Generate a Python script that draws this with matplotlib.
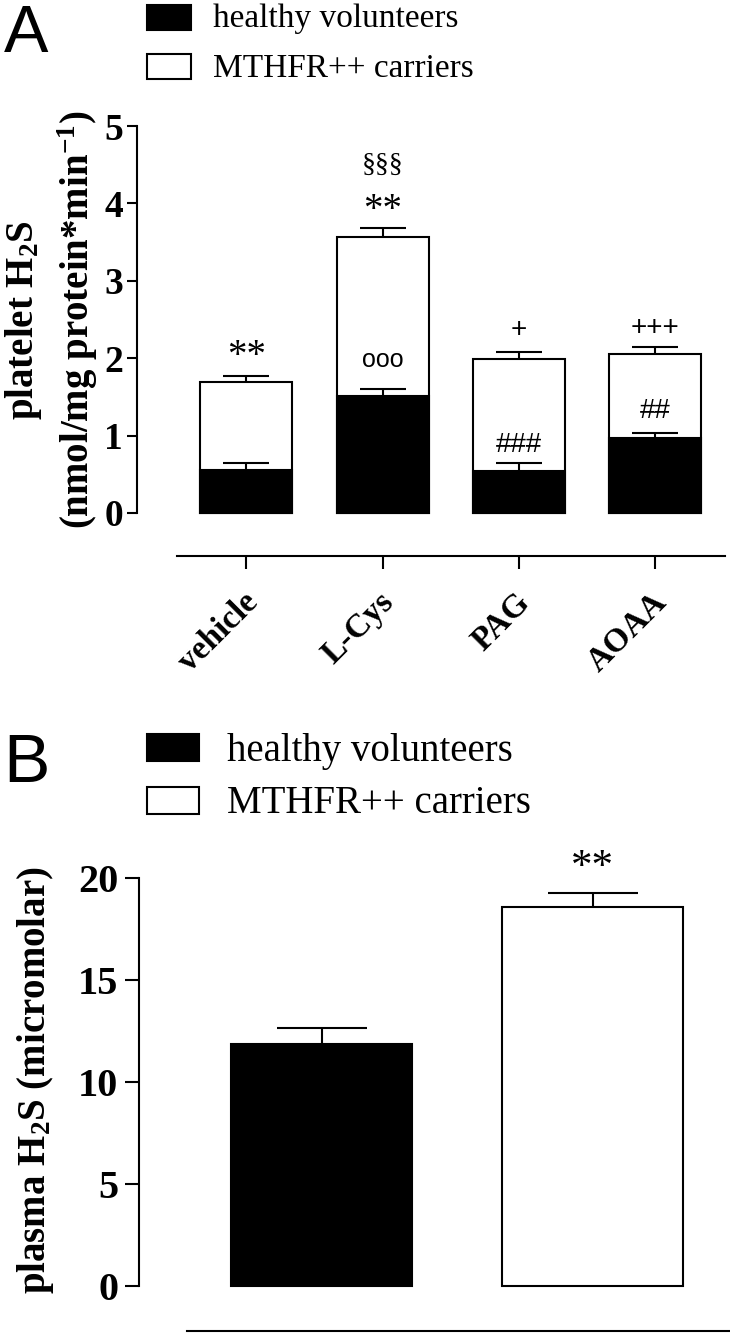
"""
Platelet and plasma H2S in healthy volunteers vs MTHFR++ carriers.
Panel A: platelet H2S under vehicle / L-Cys / PAG / AOAA.
Panel B: plasma H2S.
"""

import numpy as np
import matplotlib
matplotlib.use("Agg")
import matplotlib.pyplot as plt
from matplotlib.patches import Rectangle

# ---- data ----
categories = ["vehicle", "L-Cys", "PAG", "AOAA"]
healthy_mean = [0.56, 1.51, 0.54, 0.97]
healthy_sem = [0.08, 0.09, 0.10, 0.06]
carrier_mean = [1.69, 3.57, 1.99, 2.05]
carrier_sem = [0.08, 0.11, 0.09, 0.09]
carrier_marks = ["**", "**", "+", "+++"]
healthy_marks = ["", "ooo", "###", "##"]
lcys_extra_mark = "§§§"

plasma_mean = [11.86, 18.58]
plasma_sem = [0.79, 0.68]
plasma_marks = ["", "**"]

legend_labels = ["healthy volunteers", "MTHFR++ carriers"]
legend_colors = ["black", "white"]

SERIF = "Liberation Serif"
SANS = "Liberation Sans"

plt.rcParams["font.family"] = SERIF
plt.rcParams["mathtext.fontset"] = "custom"
plt.rcParams["mathtext.rm"] = SERIF
plt.rcParams["mathtext.bf"] = SERIF + ":bold"
plt.rcParams["mathtext.default"] = "bf"

W, H = 730, 1336
fig = plt.figure(figsize=(W / 100, H / 100), dpi=100)


def box(l, t, r, b):
    return [l / W, 1 - b / H, (r - l) / W, (b - t) / H]


def fx(x):
    return x / W


def fy(y):
    return 1 - y / H


def error_up(ax, x, m, s, w):
    top = np.add(m, s)
    ax.vlines(x, m, top, colors="black", lw=1.5, zorder=4, clip_on=False)
    ax.hlines(top, x - w / 4, x + w / 4, colors="black", lw=1.5, zorder=4,
              clip_on=False)
    return top


def mark_font(mark):
    return SERIF if ("*" in mark or "§" in mark) else SANS


def legend(y_rows, sq_w, sq_h, text_x, size):
    for (top, base), lab, col in zip(y_rows, legend_labels, legend_colors):
        fig.add_artist(Rectangle((fx(147), fy(top + sq_h)), sq_w / W, sq_h / H,
                                 facecolor=col, edgecolor="black", lw=1.5,
                                 transform=fig.transFigure))
        fig.text(fx(text_x), fy(base), lab, fontsize=size, family=SERIF,
                 va="baseline", ha="left")


# ================= Panel A =================
axA = fig.add_axes(box(137, 126, 725, 513))
x = np.arange(len(categories))
w = 0.674
axA.bar(x, carrier_mean, w, color="white", edgecolor="black", lw=1.5,
        zorder=2, clip_on=False)
axA.bar(x, healthy_mean, w, color="black", edgecolor="black", lw=1.5,
        zorder=3, clip_on=False)
c_top = error_up(axA, x, carrier_mean, carrier_sem, w)
h_top = error_up(axA, x, healthy_mean, healthy_sem, w)

c_off = [14, 13, 16, 14]
h_off = [0, 21, 13, 16]
for i in range(len(categories)):
    m = carrier_marks[i]
    if m:
        size = 28 if "*" in m else 20
        axA.annotate(m, (x[i], c_top[i]), xytext=(0, c_off[i]),
                     textcoords="offset points", ha="center", va="center",
                     fontsize=size, family=mark_font(m))
    m = healthy_marks[i]
    if m:
        axA.annotate(m, (x[i], h_top[i]), xytext=(0, h_off[i]),
                     textcoords="offset points", ha="center", va="center",
                     fontsize=18 if m == "ooo" else 20, family=mark_font(m))
axA.annotate(lcys_extra_mark, (x[1], c_top[1]), xytext=(0, 45),
             textcoords="offset points", ha="center", va="center",
             fontsize=20, family=SERIF)

axA.set_xlim(-0.80, 3.51)
axA.set_ylim(0, 5)
for s in ["top", "right"]:
    axA.spines[s].set_visible(False)
axA.spines["left"].set_linewidth(1.5)
axA.spines["bottom"].set_linewidth(1.5)
axA.spines["bottom"].set_position(("outward", 31))
axA.spines["bottom"].set_bounds(-0.505, 3.51)
axA.set_yticks(range(6))
axA.set_yticklabels([str(v) for v in range(6)], fontsize=27,
                    fontweight="bold")
axA.set_xticks(x)
axA.set_xticklabels([])
# rotated category labels, placed under the detached x axis
for i, cat in enumerate(categories):
    axA.annotate(cat, (x[i], 0), xycoords=("data", "axes fraction"),
                 xytext=(5, -61), textcoords="offset points",
                 fontsize=24, fontweight="bold", rotation=45,
                 ha="right", va="center", rotation_mode="anchor",
                 annotation_clip=False)
axA.tick_params(axis="y", length=7, width=1.5, pad=3)
axA.tick_params(axis="x", length=9.5, width=1.5)

fig.text(fx(24), fy(320), r"platelet H$_2$S", rotation=90, fontsize=28,
         fontweight="bold", ha="center", va="center")
fig.text(fx(78), fy(320), r"(nmol/mg protein*min$^{-1}$)", rotation=90,
         fontsize=28, fontweight="bold", ha="center", va="center")

fig.text(fx(4), fy(52), "A", fontsize=48, family=SANS, va="baseline")
legend([(5, 27), (54, 77)], 44, 25, 213, 24)

# ================= Panel B =================
axB = fig.add_axes(box(139, 878, 730, 1286))
xb = np.arange(len(plasma_mean))
wb = 0.668
axB.bar(xb, plasma_mean, wb, color=legend_colors, edgecolor="black", lw=1.5,
        zorder=2, clip_on=False)
b_top = error_up(axB, xb, plasma_mean, plasma_sem, wb)
for i, m in enumerate(plasma_marks):
    if m:
        axB.annotate(m, (xb[i], b_top[i]), xytext=(0, 18),
                     textcoords="offset points", ha="center", va="center",
                     fontsize=31, family=SERIF)

axB.set_xlim(-0.675, 1.506)
axB.set_ylim(0, 20)
for s in ["top", "right"]:
    axB.spines[s].set_visible(False)
axB.spines["left"].set_linewidth(1.5)
axB.spines["bottom"].set_linewidth(1.5)
axB.spines["bottom"].set_position(("outward", 32.4))
axB.spines["bottom"].set_bounds(-0.498, 1.506)
axB.set_xticks([])
axB.set_yticks(range(0, 21, 5))
axB.set_yticklabels([str(v) for v in range(0, 21, 5)], fontsize=29,
                    fontweight="bold")
axB.tick_params(axis="y", length=10, width=1.5, pad=5)

fig.text(fx(36), fy(1080), r"plasma H$_2$S (micromolar)", rotation=90,
         fontsize=28, fontweight="bold", ha="center", va="center")

fig.text(fx(3), fy(782), "B", fontsize=50, family=SANS, va="baseline")
legend([(734, 761), (787, 813)], 52, 27, 227, 28)

fig.savefig("out.png", dpi=100)
